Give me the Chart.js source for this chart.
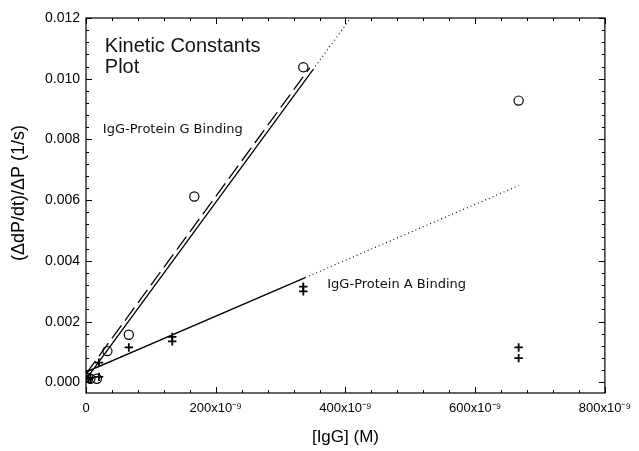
<!DOCTYPE html>
<html>
<head>
<meta charset="utf-8">
<script src="https://cdn.jsdelivr.net/npm/chart.js@4/dist/chart.umd.min.js"></script>
<style>
  html, body { margin: 0; padding: 0; background: #fff; }
  #chart { display: block; }
</style>
</head>
<body>
<canvas id="chart" width="639" height="451"></canvas>
<script>
// --- data ---
const gX = [3.3e-9, 6.7e-9, 16.7e-9, 33e-9, 66e-9, 167e-9, 335e-9, 667e-9];
const gY = [0.00015, 0.00012, 0.00012, 0.00103, 0.00157, 0.00612, 0.01038, 0.00928];
const aX = [3.3e-9, 6.7e-9, 20e-9, 20e-9, 66e-9, 133e-9, 133e-9, 335e-9, 335e-9, 667e-9, 667e-9];
const aY = [0.00012, 0.00015, 0.00018, 0.00065, 0.00115, 0.0015, 0.00135, 0.00315, 0.0030, 0.00115, 0.0008];

// fit lines (ends)
const gFitX = [0, 350e-9];
const gFitY = [0.0001, 0.0103];
const gDashX = [0, 345e-9];
const gDashY = [0.00028, 0.01036];
const gExtX = [350e-9, 408e-9];
const gExtY = [0.0103, 0.012];
const aFitX = [0, 338e-9];
const aFitY = [0.00034, 0.00345];
const aExtX = [338e-9, 667e-9];
const aExtY = [0.00345, 0.00648];

const xMajorTicks = [0, 200e-9, 400e-9, 600e-9, 800e-9];
const xTickLabels = ['0', '200x10\u207B\u2079', '400x10\u207B\u2079', '600x10\u207B\u2079', '800x10\u207B\u2079'];
const yMajorTicks = [0, 0.002, 0.004, 0.006, 0.008, 0.010, 0.012];
const yTickLabels = ['0.000', '0.002', '0.004', '0.006', '0.008', '0.010', '0.012'];

const pts = (xs, ys) => xs.map((x, i) => ({ x, y: ys[i] }));

// majors plus 4 minor ticks in between
function withMinor(majors, n) {
  const out = [];
  for (let i = 0; i < majors.length; i++) {
    out.push({ value: majors[i], major: true });
    if (i < majors.length - 1) {
      const step = (majors[i + 1] - majors[i]) / n;
      for (let k = 1; k < n; k++) out.push({ value: majors[i] + k * step, major: false });
    }
  }
  return out;
}

function labelFor(majors, labels, v) {
  const i = majors.findIndex(m => Math.abs(m - v) < Math.abs(majors[1] - majors[0]) * 1e-6);
  return i >= 0 ? labels[i] : '';
}

// frame + inward ticks on all four sides
const frame = {
  id: 'frame',
  afterDatasetsDraw(chart) {
    const { ctx, chartArea: a, scales: { x, y } } = chart;
    ctx.save();
    ctx.strokeStyle = '#000';
    ctx.lineWidth = 1.2;
    ctx.strokeRect(a.left, a.top, a.right - a.left, a.bottom - a.top);
    ctx.lineWidth = 1;
    ctx.beginPath();
    x.ticks.forEach(t => {
      const px = Math.round(x.getPixelForValue(t.value)) + 0.5;
      const len = t.major ? 6 : 3;
      ctx.moveTo(px, a.bottom); ctx.lineTo(px, a.bottom - len);
      ctx.moveTo(px, a.top); ctx.lineTo(px, a.top + len);
    });
    y.ticks.forEach(t => {
      const py = Math.round(y.getPixelForValue(t.value)) + 0.5;
      const len = t.major ? 6 : 3;
      ctx.moveTo(a.left, py); ctx.lineTo(a.left + len, py);
      ctx.moveTo(a.right, py); ctx.lineTo(a.right - len, py);
    });
    ctx.stroke();
    ctx.restore();
  }
};

// text annotations placed in data coordinates
const notes = {
  id: 'notes',
  afterDatasetsDraw(chart) {
    const { ctx, scales: { x, y } } = chart;
    const put = (text, vx, vy, font) => {
      ctx.font = font;
      ctx.fillText(text, x.getPixelForValue(vx), y.getPixelForValue(vy));
    };
    ctx.save();
    ctx.fillStyle = '#111';
    ctx.textAlign = 'left';
    ctx.textBaseline = 'alphabetic';
    put('Kinetic Constants', 29e-9, 0.01089, '20px "Liberation Sans", Arial, sans-serif');
    put('Plot', 29e-9, 0.01020, '20px "Liberation Sans", Arial, sans-serif');
    put('IgG-Protein G Binding', 26e-9, 0.00822, '13px "DejaVu Sans", Verdana, sans-serif');
    put('IgG-Protein A Binding', 372e-9, 0.00312, '13px "DejaVu Sans", Verdana, sans-serif');
    ctx.restore();
  }
};

const line = (data, dash) => ({
  data, showLine: true, pointRadius: 0, borderColor: '#000',
  borderWidth: dash && dash[0] === 1 ? 1.1 : 1.3, borderDash: dash || [], fill: false
});

new Chart(document.getElementById('chart'), {
  type: 'scatter',
  data: {
    datasets: [
      line(pts(gFitX, gFitY)),
      line(pts(gDashX, gDashY), [16, 6]),
      line(pts(gExtX, gExtY), [1, 3]),
      line(pts(aFitX, aFitY)),
      line(pts(aExtX, aExtY), [1, 3]),
      {
        data: pts(gX, gY), pointStyle: 'circle', pointRadius: 4.6,
        borderColor: '#000', backgroundColor: 'rgba(0,0,0,0)', pointBorderWidth: 1.2
      },
      {
        data: pts(aX, aY), pointStyle: 'cross', pointRadius: 4.2,
        borderColor: '#000', pointBorderWidth: 1.8
      }
    ]
  },
  options: {
    responsive: false,
    animation: false,
    layout: { padding: { top: 18, right: 28, left: 0, bottom: 0 } },
    plugins: { legend: { display: false }, tooltip: { enabled: false } },
    scales: {
      x: {
        type: 'linear', min: 0, max: 800e-9,
        afterFit: s => { s.height = 58; },
        afterBuildTicks: s => { s.ticks = withMinor(xMajorTicks, 5); },
        grid: { display: false, drawTicks: false },
        border: { display: false },
        ticks: {
          autoSkip: false, maxRotation: 0, padding: 8, color: '#000',
          font: { family: '"Liberation Sans", Arial, sans-serif', size: 13 },
          callback: v => labelFor(xMajorTicks, xTickLabels, v)
        },
        title: {
          display: true, text: '[IgG] (M)', color: '#000',
          font: { family: '"Liberation Sans", Arial, sans-serif', size: 17 },
          padding: { top: 0, bottom: 3 }
        }
      },
      y: {
        type: 'linear', min: -0.00035, max: 0.012,
        afterFit: s => { s.width = 86; },
        afterBuildTicks: s => { s.ticks = withMinor(yMajorTicks, 5); },
        grid: { display: false, drawTicks: false },
        border: { display: false },
        ticks: {
          autoSkip: false, padding: 6, color: '#000',
          font: { family: '"Liberation Sans", Arial, sans-serif', size: 14 },
          callback: v => labelFor(yMajorTicks, yTickLabels, v)
        },
        title: {
          display: true, text: '     (\u0394dP/dt)/\u0394P (1/s)', color: '#000',
          font: { family: '"Liberation Sans", Arial, sans-serif', size: 18 },
          padding: { top: 8, bottom: 0 }
        }
      }
    }
  },
  plugins: [frame, notes]
});
</script>
</body>
</html>
